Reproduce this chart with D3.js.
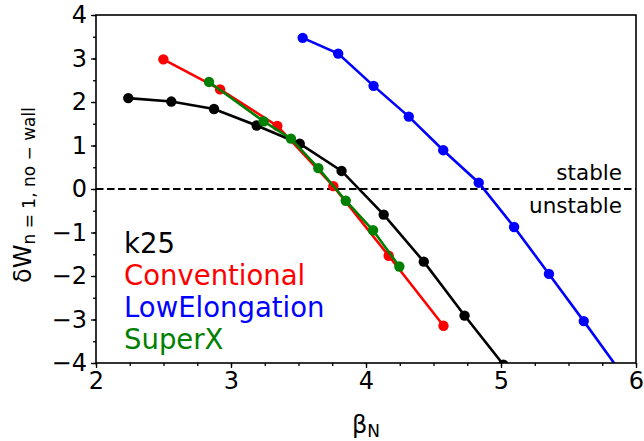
<!DOCTYPE html>
<html><head><meta charset="utf-8">
<script src="https://cdn.jsdelivr.net/npm/d3@7"></script>
<style>
body{margin:0;background:#fff;}
text{font-family:"DejaVu Sans",sans-serif;}
</style></head>
<body><svg id="c" width="644" height="441"></svg>
<script>
const k25X = [2.239, 2.558, 2.874, 3.190, 3.509, 3.819, 4.131, 4.428, 4.730, 5.018];
const k25Y = [2.09, 2.01, 1.84, 1.46, 1.04, 0.415, -0.59, -1.67, -2.91, -4.04];
const convX = [2.499, 2.919, 3.343, 3.758, 4.168, 4.574];
const convY = [2.98, 2.29, 1.45, 0.065, -1.535, -3.145];
const lowX = [3.531, 3.794, 4.056, 4.317, 4.572, 4.835, 5.097, 5.355, 5.613, 5.87];
const lowY = [3.475, 3.113, 2.371, 1.664, 0.892, 0.145, -0.873, -1.952, -3.037, -4.14];
const supX = [2.837, 3.242, 3.444, 3.647, 3.850, 4.052, 4.247];
const supY = [2.461, 1.555, 1.157, 0.479, -0.27, -0.949, -1.781];
const xTicks = [2, 3, 4, 5, 6];
const yTicks = [-4, -3, -2, -1, 0, 1, 2, 3, 4];
const seriesNames = ["k25", "Conventional", "LowElongation", "SuperX"];
const seriesColors = ["#000000", "#ff0000", "#0000ff", "#008000"];

const svg = d3.select("#c");
const L = 96, R = 636, T = 15, B = 363;
const x = d3.scaleLinear().domain([2, 6]).range([L, R]);
const y = d3.scaleLinear().domain([-4, 4]).range([B, T]);

svg.append("defs").append("clipPath").attr("id", "clip")
  .append("rect").attr("x", L).attr("y", T).attr("width", R - L).attr("height", B - T);

// zero line
svg.append("line").attr("x1", L).attr("x2", R).attr("y1", y(0)).attr("y2", y(0))
  .attr("stroke", "#000").attr("stroke-width", 2).attr("stroke-dasharray", "7.5,3.5");

const series = [[k25X, k25Y], [convX, convY], [lowX, lowY], [supX, supY]];
const drawOrder = [0, 1, 2, 3];
const g = svg.append("g").attr("clip-path", "url(#clip)");
const line = d3.line().x(d => x(d[0])).y(d => y(d[1]));
drawOrder.forEach(i => {
  const pts = series[i][0].map((v, j) => [v, series[i][1][j]]);
  g.append("path").attr("d", line(pts)).attr("fill", "none")
    .attr("stroke", seriesColors[i]).attr("stroke-width", 2.6);
  g.selectAll(null).data(pts).enter().append("circle")
    .attr("cx", d => x(d[0])).attr("cy", d => y(d[1])).attr("r", 5.2)
    .attr("fill", seriesColors[i]);
});

// axes
const xAxis = d3.axisBottom(x).tickValues(xTicks).tickSize(5).tickPadding(4).tickFormat(d3.format("d"));
const xMinor = d3.axisBottom(x).tickValues(d3.range(2, 6.001, 0.25)).tickSize(3).tickFormat("");
const yAxis = d3.axisLeft(y).tickValues(yTicks).tickSize(5).tickPadding(4).tickFormat(d => d < 0 ? "\u2212" + Math.abs(d) : d);
const yMinor = d3.axisLeft(y).tickValues(d3.range(-4, 4.001, 0.5)).tickSize(3).tickFormat("");

function style(sel, fs) {
  sel.select(".domain").remove();
  sel.selectAll("line").attr("stroke", "#000").attr("stroke-width", 1.3);
  sel.selectAll("text").attr("font-size", fs).attr("fill", "#000").attr("font-family", "DejaVu Sans");
}
svg.append("g").attr("transform", `translate(0,${B})`).call(xMinor).call(s => style(s, 24));
svg.append("g").attr("transform", `translate(0,${B})`).call(xAxis).call(s => style(s, 24));
svg.append("g").attr("transform", `translate(${L},0)`).call(yMinor).call(s => style(s, 24));
svg.append("g").attr("transform", `translate(${L},0)`).call(yAxis).call(s => style(s, 24));

svg.append("rect").attr("x", L).attr("y", T).attr("width", R - L).attr("height", B - T)
  .attr("fill", "none").attr("stroke", "#000").attr("stroke-width", 1.6);

// labels
svg.append("text").attr("x", 622).attr("y", 180).attr("text-anchor", "end")
  .attr("font-size", 21.5).text("stable");
svg.append("text").attr("x", 622).attr("y", 213).attr("text-anchor", "end")
  .attr("font-size", 21.5).text("unstable");

seriesNames.forEach((n, i) => {
  svg.append("text").attr("x", 124).attr("y", 253 + i * 32).attr("font-size", 27.5)
    .attr("fill", seriesColors[i]).text(n);
});

// x label
const xl = svg.append("text").attr("x", 366).attr("y", 433).attr("text-anchor", "middle").attr("font-size", 24);
xl.append("tspan").text("\u03b2");
xl.append("tspan").attr("font-size", 17).attr("dy", 4).text("N");

// y label
const yl = svg.append("text").attr("transform", "translate(31,195) rotate(-90)").attr("text-anchor", "middle").attr("font-size", 24);
yl.append("tspan").text("\u03b4W");
yl.append("tspan").attr("font-size", 17).attr("dy", 4).text("n = 1, no \u2212 wall");
</script></body></html>
